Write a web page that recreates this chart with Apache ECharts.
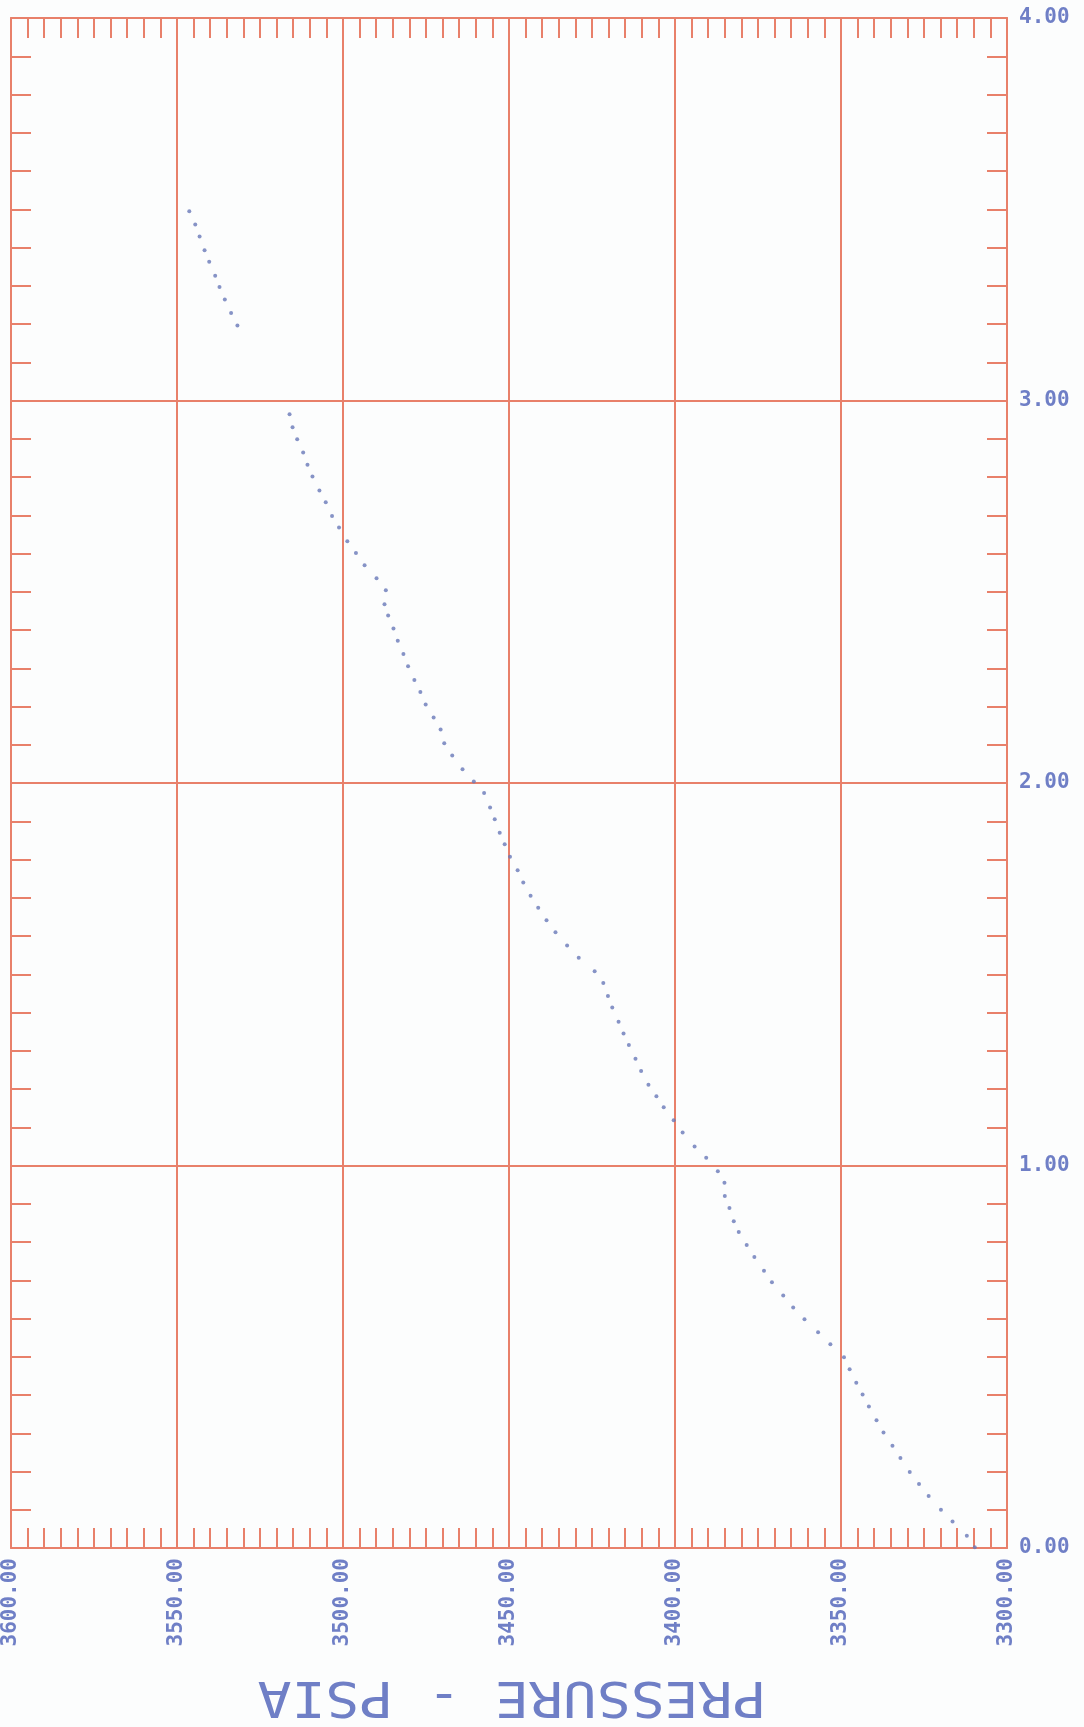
<!DOCTYPE html>
<html>
<head>
<meta charset="utf-8">
<script src="https://cdn.jsdelivr.net/npm/echarts@6/dist/echarts.min.js"></script>
<style>
  html, body { margin: 0; padding: 0; background: #fcfdfd; }
  #chart { width: 1084px; height: 1727px; }
</style>
</head>
<body>
<div id="chart"></div>
<script>
// Pressure (psia) readings
const pressure = [
  3546.3, 3544.5, 3543.2, 3541.7, 3540.3, 3538.5, 3537.2, 3535.6, 3533.7, 3531.8,
  3516.1, 3515.2, 3513.8, 3512.0, 3510.7, 3509.2, 3507.1, 3505.2, 3503.3, 3501.2,
  3498.7, 3496.1, 3493.5, 3489.9, 3487.1, 3487.5, 3486.4, 3484.8, 3483.5, 3481.8,
  3480.4, 3478.5, 3476.7, 3475.1, 3472.7, 3470.6, 3469.5, 3467.1, 3464.0, 3460.6,
  3457.5, 3455.7, 3454.3, 3452.8, 3451.3, 3449.7, 3447.4, 3445.7, 3443.5, 3441.2,
  3438.7, 3436.0, 3432.5, 3429.0, 3424.2, 3421.6, 3420.2, 3418.9, 3417.0, 3415.5,
  3413.9, 3411.9, 3410.2, 3408.0, 3405.6, 3403.4, 3400.4, 3397.7, 3394.1, 3390.6,
  3387.1, 3385.1, 3385.0, 3383.6, 3382.3, 3380.8, 3378.4, 3376.1, 3373.2, 3370.8,
  3367.4, 3364.4, 3361.0, 3356.9, 3353.2, 3349.1, 3347.4, 3345.4, 3343.5, 3341.6,
  3339.3, 3337.2, 3334.5, 3332.1, 3329.3, 3326.5, 3323.6, 3319.9, 3316.4, 3312.1,
  3309.7
];
// Vertical-axis values
const values = [
  3.495, 3.460, 3.429, 3.393, 3.363, 3.326, 3.297, 3.264, 3.229, 3.196,
  2.964, 2.930, 2.899, 2.864, 2.832, 2.801, 2.765, 2.734, 2.698, 2.668,
  2.632, 2.601, 2.569, 2.535, 2.504, 2.467, 2.438, 2.404, 2.372, 2.337,
  2.305, 2.269, 2.238, 2.205, 2.171, 2.140, 2.104, 2.072, 2.036, 2.004,
  1.974, 1.936, 1.905, 1.870, 1.840, 1.807, 1.772, 1.740, 1.705, 1.674,
  1.641, 1.610, 1.575, 1.543, 1.508, 1.477, 1.443, 1.413, 1.376, 1.345,
  1.315, 1.279, 1.247, 1.211, 1.181, 1.152, 1.118, 1.086, 1.050, 1.020,
  0.985, 0.955, 0.920, 0.889, 0.854, 0.826, 0.792, 0.761, 0.725, 0.695,
  0.660, 0.629, 0.598, 0.564, 0.533, 0.499, 0.467, 0.432, 0.401, 0.370,
  0.334, 0.302, 0.267, 0.235, 0.199, 0.167, 0.136, 0.100, 0.069, 0.032,
  0.002
];
const xMin = 3300, xMax = 3600, xStep = 50;
const yMin = 0, yMax = 4, yStep = 1;
const xTitle = 'PRESSURE - PSIA';

const gridColor = '#e8806a';
const textColor = '#6f7fc6';
const dotColor = '#6878b8';
const labelFont = { fontFamily: 'DejaVu Sans Mono', fontSize: 21, fontWeight: 'bold', color: textColor };
const lineStyle = { color: gridColor, width: 2 };

const points = pressure.map((p, i) => [p, values[i]]);

const chart = echarts.init(document.getElementById('chart'), null, { renderer: 'canvas' });

function xAxisCfg(pos, showLabel, showSplit) {
  return {
    type: 'value', position: pos, min: xMin, max: xMax, interval: xStep, inverse: true,
    axisLine: { show: true, onZero: false, lineStyle: lineStyle },
    axisTick: { show: true, inside: true, length: 20, lineStyle: lineStyle },
    minorTick: { show: true, splitNumber: 10, length: 20, lineStyle: lineStyle },
    splitLine: { show: showSplit, lineStyle: lineStyle },
    axisLabel: Object.assign({ show: showLabel, rotate: 90, margin: 10,
      formatter: v => v.toFixed(2) }, labelFont)
  };
}
function yAxisCfg(pos, showLabel, showSplit) {
  return {
    type: 'value', position: pos, min: yMin, max: yMax, interval: yStep,
    axisLine: { show: true, onZero: false, lineStyle: lineStyle },
    axisTick: { show: true, inside: true, length: 20, lineStyle: lineStyle },
    minorTick: { show: true, splitNumber: 10, length: 20, lineStyle: lineStyle },
    splitLine: { show: showSplit, lineStyle: lineStyle },
    axisLabel: Object.assign({ show: showLabel, margin: 12,
      formatter: v => v.toFixed(2) }, labelFont)
  };
}

chart.setOption({
  backgroundColor: '#fcfdfd',
  animation: false,
  grid: { left: 11, right: 77, top: 18, bottom: 179, containLabel: false, outerBoundsMode: 'none' },
  xAxis: [ xAxisCfg('bottom', true, true), xAxisCfg('top', false, false) ],
  yAxis: [ yAxisCfg('right', true, true), yAxisCfg('left', false, false) ],
  series: [{
    type: 'scatter', xAxisIndex: 0, yAxisIndex: 0,
    data: points, symbol: 'circle', symbolSize: 4,
    itemStyle: { color: dotColor }
  }],
  graphic: [{
    type: 'text', x: 512, y: 1695, rotation: Math.PI, scaleX: 1.15,
    style: {
      text: xTitle, fill: textColor,
      font: 'normal 49px "DejaVu Sans Mono"',
      textAlign: 'center', textVerticalAlign: 'middle'
    }
  }]
});
</script>
</body>
</html>
